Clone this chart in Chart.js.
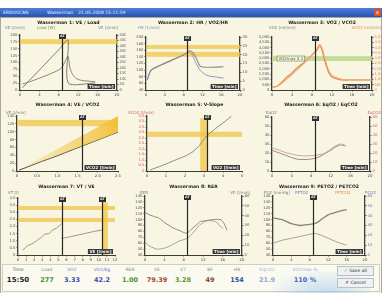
<!DOCTYPE html>
<html><head><meta charset="utf-8">
<script src="https://cdn.jsdelivr.net/npm/chart.js@4.4.0/dist/chart.umd.min.js"></script>
<style>
html,body{margin:0;padding:0;background:#fff;}
#root{position:relative;width:382px;height:293px;overflow:hidden;font-family:"DejaVu Sans","Liberation Sans",sans-serif;}
#tb{position:absolute;left:0;top:8px;width:382px;height:9px;background:linear-gradient(#4d7fd9,#2653b4);color:#e8eeff;font-size:4.5px;line-height:9px;white-space:nowrap;}
#tb span{position:absolute;top:0;}
#close{position:absolute;right:1px;top:1px;width:7px;height:7px;background:#d9532c;color:#fff;font-size:5px;line-height:7px;text-align:center;}
#content{position:absolute;left:0;top:17px;width:380px;height:275px;background:#f8f5e2;border:1px solid #a9a9a0;}
canvas{position:absolute;}
#bottom{position:absolute;left:2px;top:264px;width:376px;height:26px;background:#fbfaf1;border:1px solid #cfcfc4;}
#swoosh{position:absolute;left:270px;top:262px;width:100px;height:31px;background:radial-gradient(ellipse 60% 80% at 55% 100%,rgba(150,195,235,0.55),rgba(150,195,235,0) 100%);}
.lab{position:absolute;top:267px;font-size:4.5px;transform:translateX(-50%);white-space:nowrap;}
.val{position:absolute;top:276px;font-size:6.5px;font-weight:bold;transform:translateX(-50%);white-space:nowrap;}
.btn{position:absolute;left:337px;width:35px;height:8px;background:#eef1f2;border:1px solid #b9c0c4;font-size:4.5px;line-height:8px;text-align:center;color:#333;}
</style>
</head><body>
<div id="root">
  <div id="tb"><span style="left:3px">ERGOSCAN</span><span style="left:47px">Wasserman</span><span style="left:78px">21.05.2008 15:11:59</span><div id="close">x</div></div>
  <div id="content"></div>
  <div id="bottom"></div>
  <div id="swoosh"></div>
</div>
<script>
// ================= DATA =================
const atTime = 8.7;
// Panel 1: VE / Load vs time
const p1LoadT = [0.5, 2, 4, 6, 8, 9.9, 9.95, 15.5];
const p1Load  = [20, 90, 182, 275, 367, 455, 64, 64];
const p1VET = [0.5, 2, 4, 6, 8, 8.7, 9.3, 9.9, 10.3, 10.9, 11.6, 12.4, 13.6, 15.5];
const p1VE  = [22, 30, 43, 57, 73, 84, 104, 124, 80, 55, 42, 36, 33, 30];
const p1Band = [167, 185];
// Panel 2: HR / O2 pulse
const p2HRT = [0.3, 1, 2, 3, 4, 5, 6, 7, 8, 8.7, 9.2, 9.8, 10.5, 11.5, 12.5, 13.5, 15, 16.5];
const p2HR  = [70, 100, 109, 115, 122, 128, 134, 140, 146, 152, 155, 146, 125, 100, 88, 82, 79, 76];
const p2PulseT = [0.3, 1, 2, 3, 4, 5, 6, 7, 8, 8.7, 9.3, 10, 10.7, 11.5, 12.5, 14, 16.5];
const p2Pulse  = [6, 10.8, 12.6, 13.8, 15, 16.2, 17.4, 18.6, 19.8, 21, 22.2, 21, 18, 13.5, 12.9, 12.9, 13.2];
const p2BandHi = [164, 176];
const p2BandLo = [140, 155];
// Panel 3: VO2 / VCO2 vs time
const p3T    = [0, 1, 2, 3, 4, 5, 6, 7, 8, 9, 9.5, 10, 10.5, 11, 11.5, 12, 13, 14, 16, 20];
const p3VO2  = [280, 350, 750, 1230, 1600, 2080, 2450, 2830, 3300, 3770, 4150, 3770, 2830, 2080, 1500, 1230, 1040, 940, 940, 940];
const p3VCO2 = [300, 330, 650, 1050, 1450, 1900, 2350, 2800, 3300, 3900, 4300, 4000, 3100, 2300, 1700, 1400, 1150, 1000, 960, 950];
const p3Band = [2740, 3200];
// Panel 4: VE vs VCO2
const p4VCO2 = [0.05, 0.3, 0.6, 0.9, 1.2, 1.5, 1.8, 2.1, 2.4, 2.5];
const p4VE   = [2, 12, 24, 35, 47, 59, 71, 83, 95, 98.5];
const p4WedgeX = [0, 2.5];
const p4WedgeLow = [0, 98.5];
const p4WedgeHigh = [0, 140];
const p4Band = [114, 130];
const p4AT = 1.6;
// Panel 5: V-slope
const p5VO2  = [0.16, 0.8, 1.47, 2.0, 2.37, 2.7, 2.9, 3.16, 3.6, 4.1, 4.45];
const p5VCO2 = [0.09, 0.5, 0.98, 1.35, 1.7, 2.2, 2.65, 3.2, 3.85, 4.5, 5.0];
const p5Band = [3.1, 3.57];
const p5VBand = [2.8, 3.16];
const p5AT = 3.16;
// Panel 6: EqO2 / EqCO2
const p6T     = [0, 1, 2, 3, 4, 5, 6, 7, 8, 9, 10, 11, 12, 13, 14, 15];
const p6EqO2  = [23, 21, 19, 17, 15, 13.3, 12.8, 12.8, 13.3, 14.4, 16.7, 20, 23, 26.7, 29, 27.8];
const p6EqCO2 = [25.5, 24, 22, 20, 19, 17.5, 17, 16.8, 17, 17.5, 18.5, 20.5, 24.5, 28, 30, 28.5];
// Panel 7: VT vs VE
const p7VEa = [0.6, 1.2, 1.8, 2.3, 2.8, 3.3, 3.8, 4.3, 4.8, 5.4];
const p7VTa = [0.35, 0.65, 0.8, 1.0, 1.2, 1.45, 1.5, 1.75, 1.9, 2.2];
const p7VEb = [5.4, 6.2, 7.0, 7.8, 8.6, 9.4, 10.4];
const p7VTb = [1.15, 1.25, 1.35, 1.45, 1.55, 1.65, 1.75];
const p7BandHi = [3.16, 3.44];
const p7BandLo = [2.32, 2.6];
const p7VBand = [10.4, 11.1];
const p7Markers = [5.4, 10.4];
// Panel 8: RER-type plot
const p8AT = [0, 1, 2, 3, 4, 5, 6, 7, 8, 8.7, 9.5, 10.5, 11.5, 12.4, 14, 15.5, 16.2, 16.9];
const p8A  = [112, 108, 105, 102, 95, 90, 85, 82, 78, 77, 83, 90, 97, 98, 100, 100, 95, 82];
const p8BT = [0, 1, 2.5, 4, 5.5, 7, 8.7, 10, 11, 12, 13, 14.5, 16];
const p8B  = [13, 9, 6, 7, 10, 14, 17, 23, 29, 33, 35, 34, 27];
// Panel 9: PETO2 / PETCO2
const p9T  = [0, 2, 4, 6, 8, 9, 10, 11, 12, 14, 16];
const p9O2 = [103, 100, 93, 90, 92, 93, 97, 103, 108, 113, 117];
const p9T2 = [0, 2, 4, 6, 8, 9, 10, 12, 14, 16];
const p9CO2 = [12, 15, 17, 19, 21, 22, 21, 17, 13, 10];
// Summary table
const summaryLabels = ["Time", "Load", "VO2", "VO2/kg", "RER", "VE", "VT", "BF", "HR", "EqCO2", "VO2max %"];
const summaryValues = ["15:50", "277", "3.33", "42.2", "1.00", "79.39", "3.28", "49", "154", "21.9", "110 %"];

// ================= RENDER =================
const FONT = "'DejaVu Sans','Liberation Sans',sans-serif";
Chart.defaults.font.family = FONT;
Chart.defaults.font.size = 4;
Chart.defaults.animation = false;
const root = document.getElementById('root');
const pts = (xs, ys) => xs.map((x, i) => ({x, y: ys[i]}));

const BAND = 'rgba(242,196,70,0.75)';
const GREEN_BAND = 'rgba(190,214,140,0.85)';

const decor = {
  id: 'decor',
  beforeDatasetsDraw(chart, args, o) {
    const {ctx, chartArea: a, scales} = chart;
    ctx.save();
    for (const b of (o.hBands || [])) {
      const s = scales[b.axis || 'y'];
      const y1 = s.getPixelForValue(b.range[1]), y2 = s.getPixelForValue(b.range[0]);
      ctx.fillStyle = b.color || BAND;
      ctx.fillRect(a.left, y1, a.right - a.left, y2 - y1);
      if (b.text) {
        ctx.font = '4px ' + FONT;
        const w = ctx.measureText(b.text).width + 3;
        const bx = scales.x.getPixelForValue(b.textAt);
        ctx.fillStyle = '#f4f8e8'; ctx.strokeStyle = '#6b7b4a'; ctx.lineWidth = 0.6;
        ctx.fillRect(bx, (y1 + y2) / 2 - 2.5, w, 5); ctx.strokeRect(bx, (y1 + y2) / 2 - 2.5, w, 5);
        ctx.fillStyle = '#4a5a30'; ctx.textBaseline = 'middle'; ctx.textAlign = 'left';
        ctx.fillText(b.text, bx + 1.5, (y1 + y2) / 2);
      }
    }
    for (const b of (o.vBands || [])) {
      const x1 = scales.x.getPixelForValue(b.range[0]), x2 = scales.x.getPixelForValue(b.range[1]);
      const top = a.top + (b.inset || 0);
      ctx.fillStyle = b.color || BAND;
      ctx.fillRect(x1, top, x2 - x1, a.bottom - top);
    }
    ctx.restore();
  },
  afterDatasetsDraw(chart, args, o) {
    const {ctx, chartArea: a, scales} = chart;
    ctx.save();
    for (const m of (o.markers || [])) {
      const x = Math.round(scales.x.getPixelForValue(m)) + 0.5;
      ctx.strokeStyle = '#262626'; ctx.lineWidth = 1.2;
      ctx.beginPath(); ctx.moveTo(x, a.top); ctx.lineTo(x, a.bottom); ctx.stroke();
      ctx.fillStyle = '#303030'; ctx.fillRect(x - 3.5, a.top - 1, 7, 5);
      ctx.fillStyle = '#f0f0f0'; ctx.font = 'bold 3.5px ' + FONT;
      ctx.textAlign = 'center'; ctx.textBaseline = 'middle';
      ctx.fillText('AT', x, a.top + 1.5);
    }
    if (o.axisBox) {
      ctx.font = 'bold 4px ' + FONT;
      const w = ctx.measureText(o.axisBox).width + 3;
      ctx.fillStyle = '#3a3a3a'; ctx.fillRect(a.right - w - 2, a.bottom - 6, w, 5);
      ctx.fillStyle = '#f2f2f2'; ctx.textAlign = 'right'; ctx.textBaseline = 'middle';
      ctx.fillText(o.axisBox, a.right - 3.5, a.bottom - 3.5);
    }
    ctx.restore();
  },
  afterDraw(chart, args, o) {
    const {ctx, chartArea: a} = chart;
    ctx.save();
    ctx.textBaseline = 'middle';
    ctx.font = 'bold 4.6px ' + FONT; ctx.fillStyle = '#1e1e1e'; ctx.textAlign = 'center';
    ctx.fillText(o.title, (a.left + a.right) / 2, o.titleY);
    ctx.font = '4px ' + FONT;
    for (const l of (o.labels || [])) {
      ctx.fillStyle = l.c; ctx.textAlign = l.align || 'left';
      ctx.fillText(l.t, l.x, o.labelY);
    }
    ctx.restore();
  }
};

function axis(cfg, pos, size, color) {
  return {
    type: 'linear', position: pos, min: cfg.min, max: cfg.max,
    ticks: {stepSize: cfg.step, autoSkip: false, maxRotation: 0, padding: 1, color: color || '#555', font: {size: 3.8}},
    grid: {drawOnChartArea: false, drawTicks: true, tickLength: 1.5, color: '#555'},
    border: {display: true, color: '#3c3c3c', width: pos === 'bottom' ? 1 : 1.3},
    afterFit(s) {
      if (pos === 'bottom') s.height = size; else s.width = size;
      s.paddingTop = 0; s.paddingBottom = 0; s.paddingLeft = 0; s.paddingRight = 0;
    }
  };
}

function line(xs, ys, color, axisId, width) {
  return {data: pts(xs, ys), borderColor: color, borderWidth: width || 0.9, pointRadius: 0, tension: 0.25, fill: false, yAxisID: axisId || 'y'};
}

function panel(s) {
  const [cx, cy, cw, ch] = s.box;
  const [l, t, r, b] = s.area;
  const cv = document.createElement('canvas');
  cv.width = cw; cv.height = ch;
  cv.style.left = cx + 'px'; cv.style.top = cy + 'px';
  root.appendChild(cv);
  const scales = {
    x: axis(s.x, 'bottom', cy + ch - b, '#444'),
    y: axis(s.y, 'left', l - cx, s.yColor)
  };
  if (s.y2) scales.y2 = axis(s.y2, 'right', cx + cw - r, s.y2Color);
  new Chart(cv, {
    type: 'line',
    data: {datasets: s.datasets},
    options: {
      responsive: false, animation: false, events: [],
      layout: {padding: {top: t - cy, left: 0, bottom: 0, right: s.y2 ? 0 : cx + cw - r}},
      scales,
      plugins: {
        legend: {display: false}, tooltip: {enabled: false},
        decor: Object.assign({title: s.title, titleY: s.titleY - cy, labelY: s.labelY - cy}, s.decor)
      }
    },
    plugins: [decor]
  });
}

const timeAx = {min: 0, max: 20, step: 4};
const GRAY = '#8b8a7c';

panel({
  box: [0, 18, 126, 82], area: [20, 35, 117, 90], titleY: 23, labelY: 28,
  title: 'Wasserman 1: VE / Load',
  x: timeAx, y: {min: 0, max: 200, step: 25}, y2: {min: 0, max: 500, step: 50},
  datasets: [line(p1LoadT, p1Load, '#6f6f66', 'y2'), line(p1VET, p1VE, '#7d7c6c', 'y')],
  decor: {hBands: [{range: p1Band}], markers: [atTime], axisBox: 'Time [min]',
    labels: [{t: 'VE [l/min]', c: '#6a78b0', x: 5}, {t: 'Load [W]', c: '#5c9a3c', x: 37}, {t: 'VE [l/min]', c: '#6a78b0', x: 118, align: 'right'}]}
});
panel({
  box: [126, 18, 126, 82], area: [146, 37, 240, 90], titleY: 23, labelY: 28,
  title: 'Wasserman 2: HR / VO2/HR',
  x: timeAx, y: {min: 40, max: 200, step: 20}, y2: {min: 0, max: 30, step: 5},
  datasets: [line(p2PulseT, p2Pulse, '#8e8b82', 'y2', 1.1), line(p2HRT, p2HR, '#8c86d0', 'y')],
  decor: {hBands: [{range: p2BandHi}, {range: p2BandLo}], markers: [atTime], axisBox: 'Time [min]',
    labels: [{t: 'HR [1/min]', c: '#8a84c8', x: 12}, {t: 'VO2/HR [ml]', c: '#8a84c8', x: 239, align: 'right'}]}
});
panel({
  box: [252, 18, 130, 82], area: [272, 37, 372, 90], titleY: 23, labelY: 28,
  title: 'Wasserman 3: VO2 / VCO2',
  x: timeAx, y: {min: 0, max: 5000, step: 500}, y2: {min: 0, max: 5000, step: 500}, y2Color: '#d98a50',
  datasets: [line(p3T, p3VCO2, '#f0a878', 'y', 1.1), line(p3T, p3VO2, '#e07f3a', 'y', 1.1)],
  decor: {hBands: [{range: p3Band, color: GREEN_BAND, text: 'VO2max 3.1', textAt: 1.0}], markers: [atTime], axisBox: 'Time [min]',
    labels: [{t: 'VO2 [ml/min]', c: '#7a7a7a', x: 17}, {t: 'VCO2 [ml/min]', c: '#e08a4a', x: 129, align: 'right'}]}
});
panel({
  box: [0, 100, 126, 81], area: [17, 116, 118, 171], titleY: 105, labelY: 113,
  title: 'Wasserman 4: VE / VCO2',
  x: {min: 0, max: 2.5, step: 0.5}, y: {min: 0, max: 140, step: 20},
  datasets: [
    {data: pts(p4WedgeX, p4WedgeLow), borderWidth: 0, pointRadius: 0, fill: false},
    {data: pts(p4WedgeX, p4WedgeHigh), borderWidth: 0, pointRadius: 0, fill: '-1',
      backgroundColor(c) {
        const a = c.chart.chartArea; if (!a) return BAND;
        const g = c.chart.ctx.createLinearGradient(a.left, 0, a.right, 0);
        g.addColorStop(0, 'rgba(245,205,80,0.15)'); g.addColorStop(1, 'rgba(242,190,55,0.95)');
        return g;
      }},
    line(p4VCO2, p4VE, '#2a2a2a', 'y', 0.9)
  ],
  decor: {hBands: [{range: p4Band}], markers: [p4AT], axisBox: 'VCO2 [l/min]',
    labels: [{t: 'VE [l/min]', c: '#777', x: 6}]}
});
panel({
  box: [126, 100, 126, 81], area: [147, 116, 242, 171], titleY: 105, labelY: 113,
  title: 'Wasserman 5: V-Slope',
  x: {min: 0, max: 5, step: 1}, y: {min: 0, max: 5, step: 0.5}, yColor: '#d06060',
  datasets: [line(p5VO2, p5VCO2, '#8b8a7c', 'y', 1)],
  decor: {hBands: [{range: p5Band}], vBands: [{range: p5VBand, inset: 2}], markers: [p5AT], axisBox: 'VO2 [l/min]',
    labels: [{t: 'VCO2 [l/min]', c: '#d06060', x: 2}]}
});
panel({
  box: [252, 100, 130, 81], area: [272, 117, 370, 171], titleY: 105, labelY: 113,
  title: 'Wasserman 6: EqO2 / EqCO2',
  x: timeAx, y: {min: 0, max: 60, step: 10}, y2: {min: 0, max: 60, step: 10}, y2Color: '#d06060',
  datasets: [line(p6T, p6EqCO2, '#d8a09a', 'y2', 1), line(p6T, p6EqO2, '#8d8c82', 'y', 1)],
  decor: {markers: [atTime], axisBox: 'Time [min]',
    labels: [{t: 'EqO2', c: '#777', x: 14}, {t: 'EqCO2', c: '#d06060', x: 129, align: 'right'}]}
});
panel({
  box: [0, 181, 126, 82], area: [18, 198, 115, 255], titleY: 187, labelY: 193,
  title: 'Wasserman 7: VT / VE',
  x: {min: 0, max: 12, step: 1}, y: {min: 0, max: 4, step: 0.5},
  datasets: [line(p7VEa, p7VTa, GRAY, 'y', 0.9), line(p7VEb, p7VTb, GRAY, 'y', 0.9)],
  decor: {hBands: [{range: p7BandHi}, {range: p7BandLo}], vBands: [{range: p7VBand, inset: 4}], markers: p7Markers, axisBox: 'VE [l/min]',
    labels: [{t: 'VT [l]', c: '#777', x: 8}]}
});
panel({
  box: [126, 181, 126, 82], area: [145, 196, 242, 255], titleY: 187, labelY: 193,
  title: 'Wasserman 8: RER',
  x: timeAx, y: {min: 40, max: 140, step: 10}, y2: {min: 0, max: 60, step: 10},
  datasets: [line(p8AT, p8A, GRAY, 'y', 1), line(p8BT, p8B, '#9a998c', 'y2', 0.9)],
  decor: {markers: [atTime], axisBox: 'Time [min]',
    labels: [{t: 'RER', c: '#777', x: 14}, {t: 'VE [l/min]', c: '#777', x: 124, align: 'right'}]}
});
panel({
  box: [252, 181, 130, 82], area: [273, 196, 365, 255], titleY: 187, labelY: 193,
  title: 'Wasserman 9: PETO2 / PETCO2',
  x: timeAx, y: {min: 40, max: 140, step: 10}, y2: {min: 0, max: 60, step: 10}, y2Color: '#5a78c0',
  datasets: [line(p9T, p9O2, '#858478', 'y', 1.3), line(p9T2, p9CO2, '#9a998c', 'y2', 0.9)],
  decor: {markers: [atTime], axisBox: 'Time [min]',
    labels: [{t: 'PO2 [mmHg]', c: '#7a7a7a', x: 12}, {t: 'PETO2', c: '#5a78c0', x: 43}, {t: 'PETCO2', c: '#e08a4a', x: 83}, {t: 'PCO2', c: '#5a78c0', x: 124, align: 'right'}]}
});

// Summary row
const sumX = [18, 47, 72, 102, 130, 157, 183, 210, 237, 267, 305];
const labColors = ['#555', '#6aa040', '#6f7fc0', '#6f6fc0', '#6aa040', '#8a8a8a', '#7aa060', '#8a8a8a', '#8a8a8a', '#9cb4d6', '#a0a6d8'];
const valColors = ['#222', '#4a9030', '#3a4ab0', '#4a4ab8', '#4a9030', '#a04830', '#5a9a30', '#7a4a2a', '#3050a0', '#90a8d0', '#4a60c8'];
summaryLabels.forEach((t, i) => {
  const d = document.createElement('div'); d.className = 'lab'; d.textContent = t;
  d.style.left = sumX[i] + 'px'; d.style.color = labColors[i]; root.appendChild(d);
  const v = document.createElement('div'); v.className = 'val'; v.textContent = summaryValues[i];
  v.style.left = sumX[i] + 'px'; v.style.color = valColors[i];
  if (i === 0) v.style.fontSize = '7px';
  root.appendChild(v);
});
const b1 = document.createElement('div'); b1.className = 'btn'; b1.style.top = '266px';
b1.innerHTML = '<span style="color:#3a8a3a">&#10003;</span> Save all'; root.appendChild(b1);
const b2 = document.createElement('div'); b2.className = 'btn'; b2.style.top = '278px';
b2.innerHTML = '<span style="color:#c83030">&#10007;</span> Cancel'; root.appendChild(b2);
</script>
</body></html>
